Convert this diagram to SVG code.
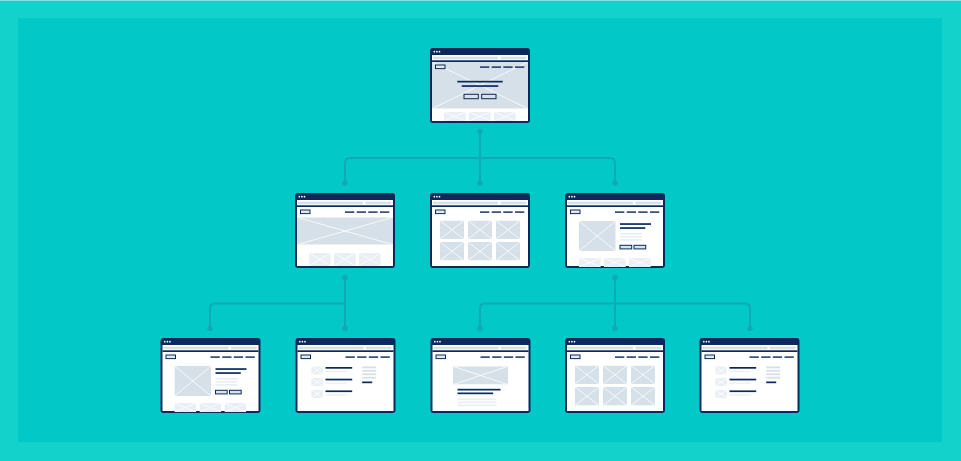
<svg xmlns="http://www.w3.org/2000/svg" xmlns:xlink="http://www.w3.org/1999/xlink" width="961" height="461" viewBox="0 0 961 461">
  <style>
    .navy{fill:#0b2a5c}
    .pale{color:#d5e0e9;fill:#d5e0e9}
    .faint{color:#e9eff4;fill:#e9eff4}
    .btn{fill:#dae3eb;stroke:#0b2a5c;stroke-width:1}
    .logo{fill:#e2e9ef;stroke:#0b2a5c;stroke-width:1}
    .wire{fill:none;stroke:#10a9b9;stroke-width:2}
    .dot{fill:#10a9b9}
  </style>
  <defs>
    <!-- placeholder image: filled box crossed by two white diagonals -->
    <symbol id="ximg" viewBox="0 0 10 10" preserveAspectRatio="none">
      <rect width="10" height="10" fill="currentColor"/>
      <path d="M0 0L10 10M10 0L0 10" stroke="#fff" stroke-width="0.8" vector-effect="non-scaling-stroke" fill="none"/>
    </symbol>
    <!-- browser window chrome: frame, title bar dots, address bar -->
    <g id="chrome">
      <rect width="100" height="75" rx="3" class="navy"/>
      <rect x="2" y="7" width="96" height="66" fill="#fff"/>
      <circle cx="4.3" cy="3.7" r="0.85" fill="#fff"/>
      <circle cx="6.9" cy="3.7" r="0.85" fill="#fff"/>
      <circle cx="9.5" cy="3.7" r="0.85" fill="#fff"/>
      <rect x="3" y="8.7" width="65" height="2.6" class="pale"/>
      <rect x="70.5" y="8.7" width="25.5" height="2.6" class="pale"/>
      <rect x="2" y="12.3" width="96" height="1.7" class="navy"/>
    </g>
    <!-- logo and navigation links -->
    <g id="nav">
      <rect x="5.5" y="17" width="9.5" height="3.6" class="logo"/>
      <rect x="50" y="18.4" width="9.3" height="1.4" class="navy"/>
      <rect x="61.7" y="18.4" width="9.3" height="1.4" class="navy"/>
      <rect x="73.3" y="18.4" width="9.3" height="1.4" class="navy"/>
      <rect x="85" y="18.4" width="9.3" height="1.4" class="navy"/>
    </g>
    <!-- row of faint thumbnails along the bottom edge -->
    <g id="footthumbs">
      <use href="#ximg" x="14" y="64" width="21.7" height="9" class="faint"/>
      <use href="#ximg" x="39" y="64" width="21.7" height="9" class="faint"/>
      <use href="#ximg" x="64" y="64" width="21.7" height="9" class="faint"/>
    </g>
    <!-- 3 x 2 image grid -->
    <g id="gridpage">
      <use href="#chrome"/>
      <use href="#nav"/>
      <use href="#ximg" x="10" y="27.5" width="24" height="18.5" class="pale"/>
      <use href="#ximg" x="38" y="27.5" width="24" height="18.5" class="pale"/>
      <use href="#ximg" x="66" y="27.5" width="24" height="18.5" class="pale"/>
      <use href="#ximg" x="10" y="49" width="24" height="18.5" class="pale"/>
      <use href="#ximg" x="38" y="49" width="24" height="18.5" class="pale"/>
      <use href="#ximg" x="66" y="49" width="24" height="18.5" class="pale"/>
    </g>
    <!-- product detail: image, title, text, two buttons -->
    <g id="productpage">
      <use href="#chrome"/>
      <use href="#nav"/>
      <use href="#ximg" x="14" y="28" width="36.7" height="30" class="pale"/>
      <rect x="55" y="30.2" width="31" height="1.7" class="navy"/>
      <rect x="55" y="34.2" width="25.3" height="1.7" class="navy"/>
      <rect x="55" y="40" width="22" height="1.6" class="faint"/>
      <rect x="55" y="43" width="22" height="1.6" class="faint"/>
      <rect x="55" y="46" width="22" height="1.6" class="faint"/>
      <rect x="55" y="52.3" width="11.7" height="3.6" class="btn"/>
      <rect x="69" y="52.3" width="11.7" height="3.6" class="btn"/>
      <use href="#footthumbs" y="1"/>
    </g>
    <!-- listing: three rows of thumb + text, sidebar on the right -->
    <g id="listpage">
      <use href="#chrome"/>
      <use href="#nav"/>
      <use href="#ximg" x="15.7" y="28.3" width="11.7" height="8.3" class="faint"/>
      <use href="#ximg" x="15.7" y="40" width="11.7" height="8.3" class="faint"/>
      <use href="#ximg" x="15.7" y="51.7" width="11.7" height="8.3" class="faint"/>
      <rect x="30" y="29" width="26.7" height="1.7" class="navy"/>
      <rect x="30" y="32.8" width="21.3" height="1.3" class="faint"/>
      <rect x="30" y="40.7" width="26.7" height="1.7" class="navy"/>
      <rect x="30" y="44.5" width="21.3" height="1.3" class="faint"/>
      <rect x="30" y="52.4" width="26.7" height="1.7" class="navy"/>
      <rect x="30" y="56.2" width="21.3" height="1.3" class="faint"/>
      <rect x="66.7" y="28.5" width="14" height="1.8" class="pale"/>
      <rect x="66.7" y="31.9" width="14" height="1.8" class="pale"/>
      <rect x="66.7" y="35.4" width="14" height="1.8" class="pale"/>
      <rect x="66.7" y="38.8" width="14" height="1.8" class="pale"/>
      <rect x="66.7" y="43.5" width="10" height="1.7" class="navy"/>
    </g>
  </defs>

  <!-- backdrop -->
  <rect width="961" height="461" fill="#13d1cb"/>
  <rect width="961" height="1" fill="#7fe3de"/>
  <rect x="18" y="18" width="924" height="424" fill="#03c8c8"/>

  <!-- connectors -->
  <g id="connectors">
    <path class="wire" d="M480 131.5V183M345 183V163Q345 158 350 158H610Q615 158 615 163V183"/>
    <path class="wire" d="M345 277.5V328.5M210 328.5V308.5Q210 303.5 215 303.5H345"/>
    <path class="wire" d="M615 277.5V328.5M480 328.5V308.5Q480 303.5 485 303.5H745Q750 303.5 750 308.5V328.5"/>
    <circle class="dot" cx="480" cy="131.5" r="2.7"/>
    <circle class="dot" cx="345" cy="183" r="2.7"/>
    <circle class="dot" cx="480" cy="183" r="2.7"/>
    <circle class="dot" cx="615" cy="183" r="2.7"/>
    <circle class="dot" cx="345" cy="277.5" r="2.7"/>
    <circle class="dot" cx="615" cy="277.5" r="2.7"/>
    <circle class="dot" cx="210" cy="328.5" r="2.7"/>
    <circle class="dot" cx="345" cy="328.5" r="2.7"/>
    <circle class="dot" cx="480" cy="328.5" r="2.7"/>
    <circle class="dot" cx="615" cy="328.5" r="2.7"/>
    <circle class="dot" cx="750" cy="328.5" r="2.7"/>
  </g>

  <!-- home page -->
  <g id="node-home" transform="translate(430 48)">
    <use href="#chrome"/>
    <use href="#ximg" x="2" y="14" width="96" height="46.7" class="pale"/>
    <use href="#nav"/>
    <rect x="27.3" y="32.8" width="45.4" height="1.7" class="navy"/>
    <rect x="31.7" y="37.2" width="36.6" height="1.7" class="navy"/>
    <rect x="34" y="46.3" width="14.3" height="4.4" class="btn"/>
    <rect x="51.7" y="46.3" width="14.3" height="4.4" class="btn"/>
    <use href="#footthumbs"/>
  </g>

  <!-- landing page with wide banner -->
  <g id="node-landing" transform="translate(295 193)">
    <use href="#chrome"/>
    <use href="#nav"/>
    <use href="#ximg" x="2" y="24.3" width="96" height="27.4" class="pale"/>
    <use href="#ximg" x="14" y="60" width="21.7" height="13" class="faint"/>
    <use href="#ximg" x="39" y="60" width="21.7" height="13" class="faint"/>
    <use href="#ximg" x="64" y="60" width="21.7" height="13" class="faint"/>
  </g>

  <g id="node-gallery" transform="translate(430 193)">
    <use href="#gridpage"/>
  </g>

  <g id="node-product" transform="translate(565 193)">
    <use href="#productpage"/>
  </g>

  <g id="node-product-2" transform="translate(160.5 338)">
    <use href="#productpage"/>
  </g>

  <g id="node-list" transform="translate(295.5 338)">
    <use href="#listpage"/>
  </g>

  <!-- article page -->
  <g id="node-article" transform="translate(430.5 338)">
    <use href="#chrome"/>
    <use href="#nav"/>
    <use href="#ximg" x="22.3" y="28.3" width="55.3" height="18.3" class="pale"/>
    <rect x="27" y="50.8" width="43" height="1.7" class="navy"/>
    <rect x="27" y="54.5" width="35.7" height="1.7" class="navy"/>
    <rect x="27" y="60.5" width="39" height="1.8" class="faint"/>
    <rect x="27" y="63.5" width="39" height="1.8" class="faint"/>
    <rect x="27" y="66.5" width="39" height="1.8" class="faint"/>
  </g>

  <g id="node-gallery-2" transform="translate(565 338)">
    <use href="#gridpage"/>
  </g>

  <g id="node-list-2" transform="translate(699.5 338)">
    <use href="#listpage"/>
  </g>
</svg>
